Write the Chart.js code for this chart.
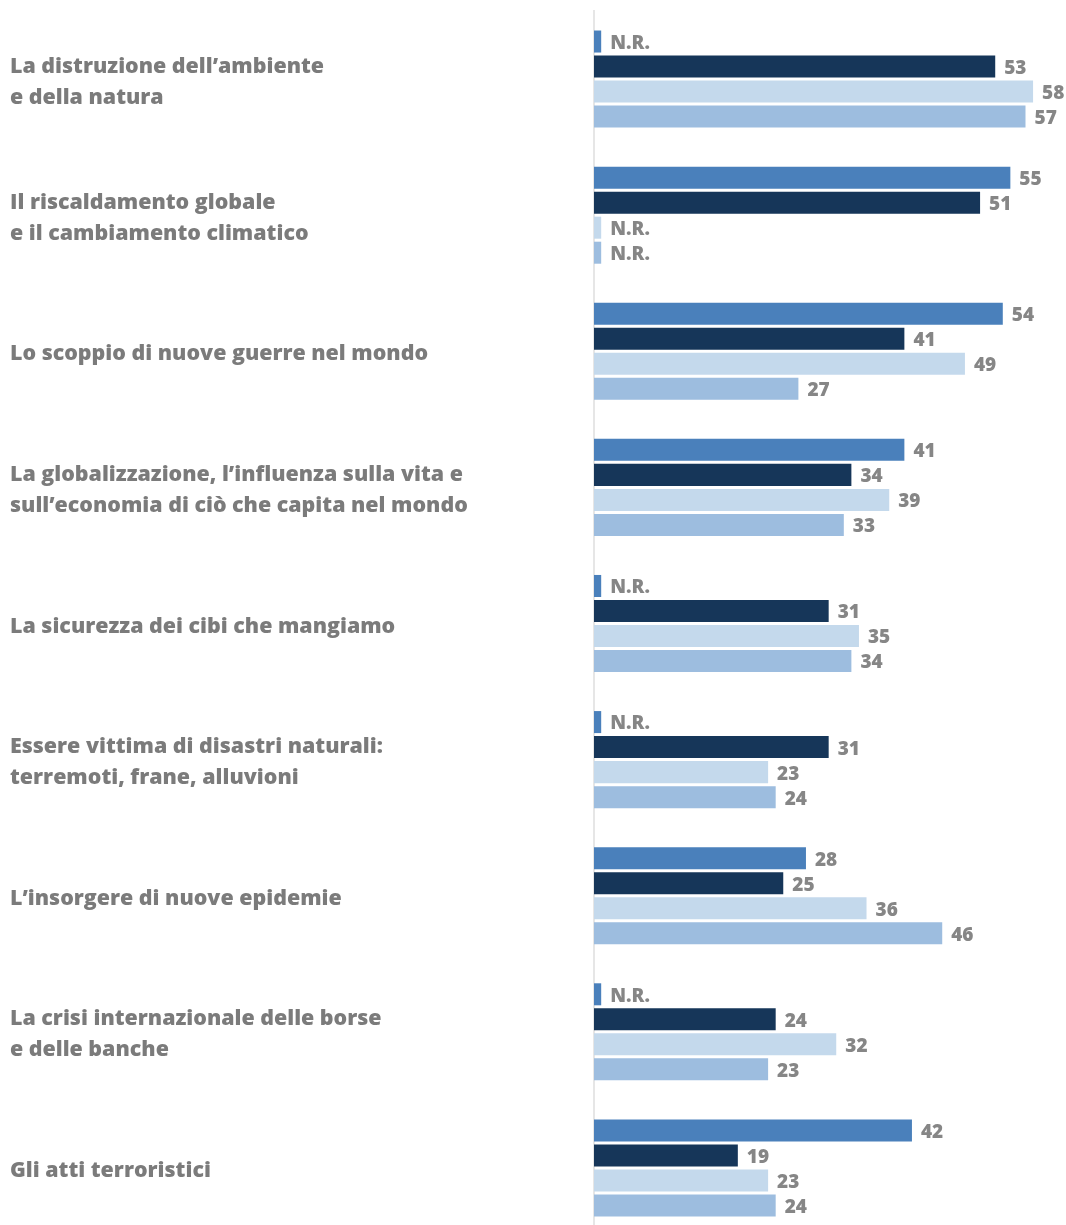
<!DOCTYPE html>
<html lang="it">
<head>
<meta charset="utf-8">
<script src="https://cdn.jsdelivr.net/npm/chart.js@4"></script>
<style>
  html, body { margin: 0; padding: 0; background: #ffffff; overflow: hidden; }
  #wrap { width: 1066px; height: 1236px; position: relative; }
</style>
</head>
<body>
<div id="wrap"><canvas id="chart"></canvas></div>
<script>
// Categorie (etichette a più righe)
const categories = [
  ['La distruzione dell’ambiente', 'e della natura'],
  ['Il riscaldamento globale', 'e il cambiamento climatico'],
  ['Lo scoppio di nuove guerre nel mondo'],
  ['La globalizzazione, l’influenza sulla vita e', 'sull’economia di ciò che capita nel mondo'],
  ['La sicurezza dei cibi che mangiamo'],
  ['Essere vittima di disastri naturali:', 'terremoti, frane, alluvioni'],
  ['L’insorgere di nuove epidemie'],
  ['La crisi internazionale delle borse', 'e delle banche'],
  ['Gli atti terroristici']
];

// Valori percentuali per serie (null = N.R., non rilevato)
const serie1 = [null, 55, 54, 41, null, null, 28, null, 42];
const serie2 = [53, 51, 41, 34, 31, 31, 25, 24, 19];
const serie3 = [58, null, 49, 39, 35, 23, 36, 32, 23];
const serie4 = [57, null, 27, 33, 34, 24, 46, 23, 24];

const seriesColors = ['#4a80bb', '#163659', '#c4d9ec', '#9dbddf'];
const NR_LABEL = 'N.R.';
const NR_STUB = 0.95; // piccola barra che segnala il dato non rilevato

const allSeries = [serie1, serie2, serie3, serie4];

const datasets = allSeries.map((vals, i) => ({
  label: 'Serie ' + (i + 1),
  data: vals.map(v => (v === null ? NR_STUB : v)),
  raw: vals,
  backgroundColor: seriesColors[i],
  borderWidth: 0,
  categoryPercentage: 100 / 136,
  barPercentage: 0.88
}));

// Etichette di valore a destra delle barre
const valueLabels = {
  id: 'valueLabels',
  afterDatasetsDraw(chart) {
    const ctx = chart.ctx;
    ctx.save();
    ctx.font = '800 19px "Open Sans", sans-serif';
    ctx.fillStyle = '#868686';
    ctx.textAlign = 'left';
    ctx.textBaseline = 'middle';
    chart.data.datasets.forEach((ds, di) => {
      const meta = chart.getDatasetMeta(di);
      meta.data.forEach((bar, i) => {
        const v = ds.raw[i];
        const txt = v === null ? NR_LABEL : String(v);
        ctx.fillText(txt, bar.x + 9, bar.y + 2);
      });
    });
    ctx.restore();
  }
};

new Chart(document.getElementById('chart'), {
  type: 'bar',
  data: { labels: categories, datasets },
  options: {
    indexAxis: 'y',
    responsive: true,
    maintainAspectRatio: false,
    animation: false,
    layout: { padding: { left: 10, top: 11, right: 0, bottom: 0 } },
    plugins: {
      legend: { display: false },
      tooltip: { enabled: false }
    },
    scales: {
      x: {
        display: false,
        min: 0,
        max: 62.35
      },
      y: {
        grid: { display: false, drawTicks: false },
        border: { display: true, color: '#e6e6e6', width: 2 },
        ticks: {
          crossAlign: 'far',
          color: '#7b7b7b',
          padding: 0,
          labelOffset: 3,
          font: { family: '"Open Sans", sans-serif', size: 21.4, weight: '800', lineHeight: 1.45 }
        },
        afterFit(scale) {
          scale.width = 584;
          scale.paddingTop = 0;
          scale.paddingBottom = 0;
        }
      }
    }
  },
  plugins: [valueLabels]
});
</script>
</body>
</html>
